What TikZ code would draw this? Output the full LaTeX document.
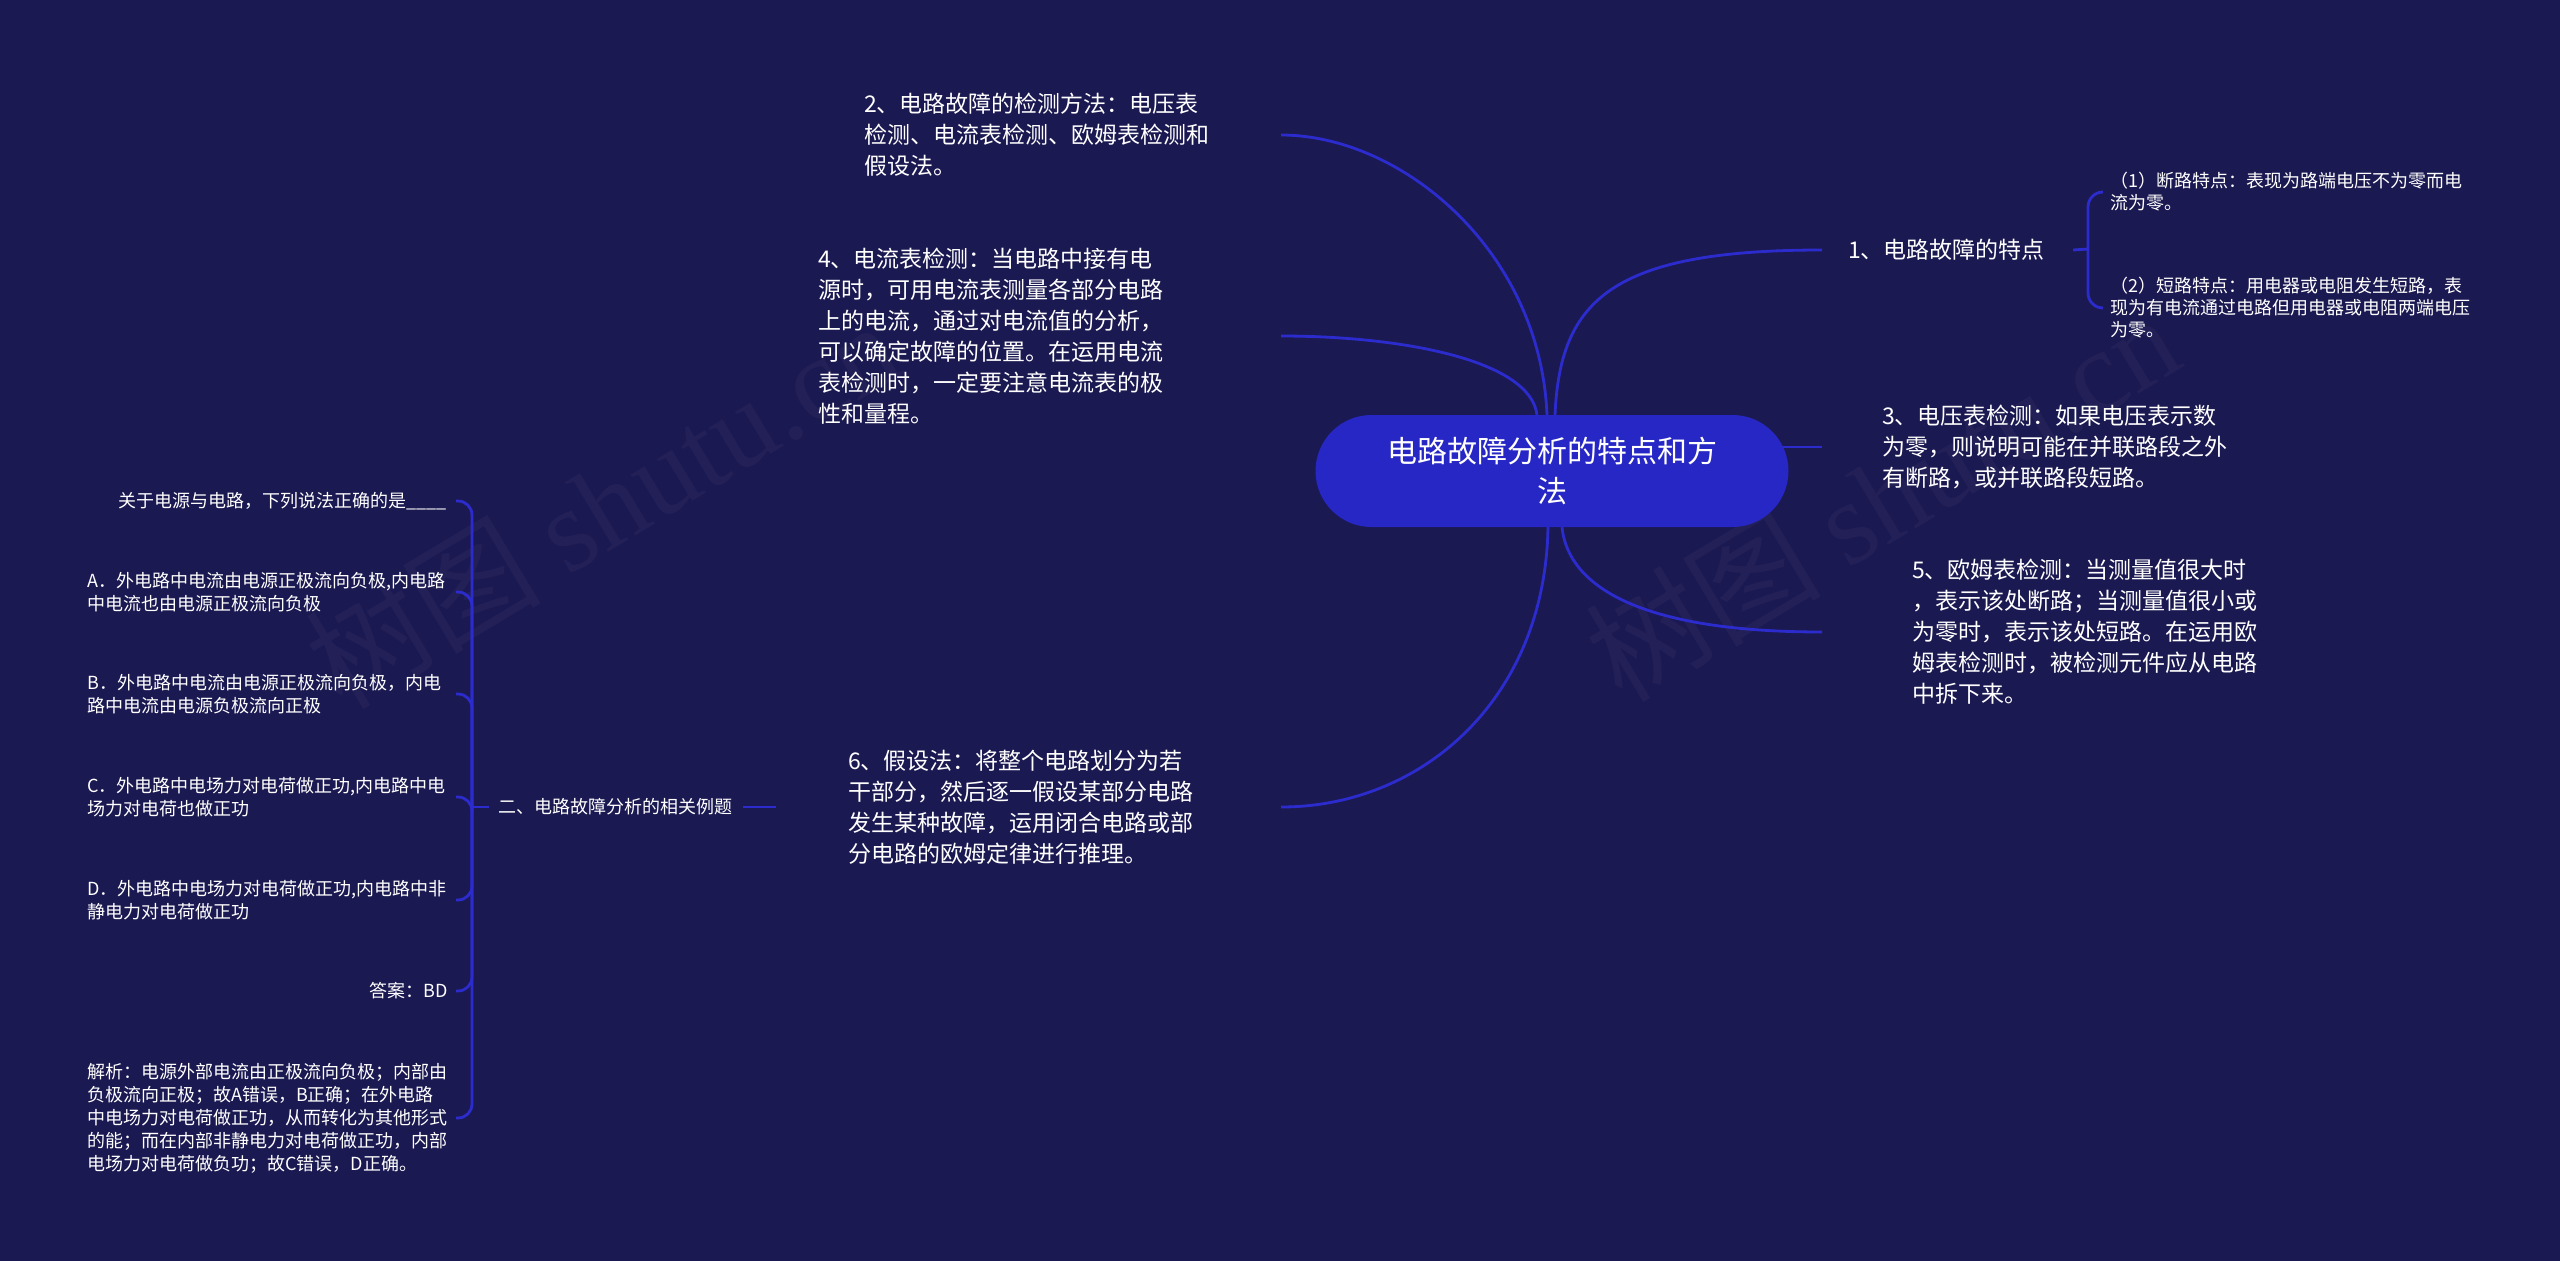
\documentclass[tikz,border=0pt]{standalone}
\usepackage{fontspec}
\setmainfont{Noto Sans CJK SC}
\newfontfamily\wmserif{Liberation Serif}
\definecolor{bgc}{RGB}{27,25,81}
\definecolor{rootc}{RGB}{39,39,198}
\definecolor{linec}{RGB}{44,44,206}
\pgfdeclarelayer{bg}
\pgfsetlayers{bg,main}
\begin{document}
\begin{tikzpicture}[x=1pt,y=-1pt,
  conn/.style={draw=linec,line width=2.8pt},
  lvone/.style={text=white,inner sep=0pt,align=left,anchor=west,font=\fontsize{23}{31}\selectfont},
  lvtwo/.style={text=white,inner sep=0pt,align=left,anchor=west,font=\fontsize{18}{23}\selectfont},
  wmark/.style={rotate=31,anchor=base west,text=white,opacity=0.03,inner sep=0pt,font=\fontsize{118}{118}\selectfont}]
\begin{pgfonlayer}{bg}
\fill[bgc] (0,0) rectangle (2560,1261);
\node[wmark] (wma) at (342,712) {树图 {\wmserif shutu.cn}};
\node[wmark] (wmb) at (1622,705) {树图 {\wmserif shutu.cn}};
\end{pgfonlayer}
\useasboundingbox (0,0) rectangle (2560,1261);

% root
\node[fill=rootc,rounded corners=56pt,minimum width=473pt,minimum height=112pt,inner sep=0pt,
      text=white,align=center,font=\fontsize{30}{40}\selectfont] (root) at (1552,471)
      {电路故障分析的特点和方\\法};

% right side
\node[lvone] (n1) at (1848,250) {1、电路故障的特点};
\node[lvtwo,font=\fontsize{18}{22}\selectfont] (c11) at (2110,192) {（1）断路特点：表现为路端电压不为零而电\\流为零。};
\node[lvtwo,font=\fontsize{18}{22}\selectfont] (c12) at (2110,308) {（2）短路特点：用电器或电阻发生短路，表\\现为有电流通过电路但用电器或电阻两端电压\\为零。};
\node[lvone] (n3) at (1882,447) {3、电压表检测：如果电压表示数\\为零，则说明可能在并联路段之外\\有断路，或并联路段短路。};
\node[lvone] (n5) at (1912,632) {5、欧姆表检测：当测量值很大时\\，表示该处断路；当测量值很小或\\为零时，表示该处短路。在运用欧\\姆表检测时，被检测元件应从电路\\中拆下来。};

% left side
\node[lvone] (n2) at (864,135) {2、电路故障的检测方法：电压表\\检测、电流表检测、欧姆表检测和\\假设法。};
\node[lvone] (n4) at (818,336) {4、电流表检测：当电路中接有电\\源时，可用电流表测量各部分电路\\上的电流，通过对电流值的分析，\\可以确定故障的位置。在运用电流\\表检测时，一定要注意电流表的极\\性和量程。};
\node[lvone] (n6) at (848,807) {6、假设法：将整个电路划分为若\\干部分，然后逐一假设某部分电路\\发生某种故障，运用闭合电路或部\\分电路的欧姆定律进行推理。};
\node[lvtwo] (e2) at (498,807) {二、电路故障分析的相关例题};

\node[lvtwo,anchor=east] (q) at (447,501) {关于电源与电路，下列说法正确的是\_\_\_\_};
\node[lvtwo] (qa) at (87,592) {A．外电路中电流由电源正极流向负极,内电路\\中电流也由电源正极流向负极};
\node[lvtwo] (qb) at (87,694) {B．外电路中电流由电源正极流向负极，内电\\路中电流由电源负极流向正极};
\node[lvtwo] (qc) at (87,797) {C．外电路中电场力对电荷做正功,内电路中电\\场力对电荷也做正功};
\node[lvtwo] (qd) at (87,900) {D．外电路中电场力对电荷做正功,内电路中非\\静电力对电荷做正功};
\node[lvtwo,anchor=east] (ans) at (448,991) {答案：BD};
\node[lvtwo] (jx) at (87,1118) {解析：电源外部电流由正极流向负极；内部由\\负极流向正极；故A错误，B正确；在外电路\\中电场力对电荷做正功，从而转化为其他形式\\的能；而在内部非静电力对电荷做正功，内部\\电场力对电荷做负功；故C错误，D正确。};

\coordinate (rm) at (2088,249);
\coordinate (bm) at (472,807);
\coordinate (lb) at (456,807);

\begin{pgfonlayer}{bg}
% root to right branches
\draw[conn] ([xshift=3pt]root.north) .. controls +(5,-115) and +(-210,0) .. ([xshift=-26pt]n1.west);
\draw[conn] (root.center |- n3.west) -- ([xshift=-60pt]n3.west);
\draw[conn] ([xshift=10pt]root.south) .. controls +(5,50) and +(-200,0) .. ([xshift=-90pt]n5.west);
% root to left branches
\draw[conn] ([xshift=-5pt]root.north) .. controls +(-7,-165) and +(120,0) .. ([xshift=417pt]n2.west);
\draw[conn] ([xshift=-15pt]root.north) .. controls +(-7,-55) and +(120,0) .. ([xshift=463pt]n4.west);
\draw[conn] ([xshift=-4pt]root.south) .. controls +(-3,173) and +(140,0) .. ([xshift=433pt]n6.west);
% 6 -> 二
\draw[conn] ([xshift=-72pt]n6.west) -- ([xshift=11pt]e2.east);
% right brace
\draw[conn] ([xshift=28pt]n1.east) -- (rm);
\draw[conn,rounded corners=15pt] (rm) |- ([xshift=-7pt]c11.west);
\draw[conn,rounded corners=15pt] (rm) |- ([xshift=-7pt]c12.west);
% left brace
\draw[conn] ([xshift=-9pt]e2.west) -- (bm);
\foreach \c in {q,qa,qb,qc,qd,ans,jx}
  \draw[conn,rounded corners=14pt] (bm) |- (lb |- \c.west);
\end{pgfonlayer}
\end{tikzpicture}
\end{document}
